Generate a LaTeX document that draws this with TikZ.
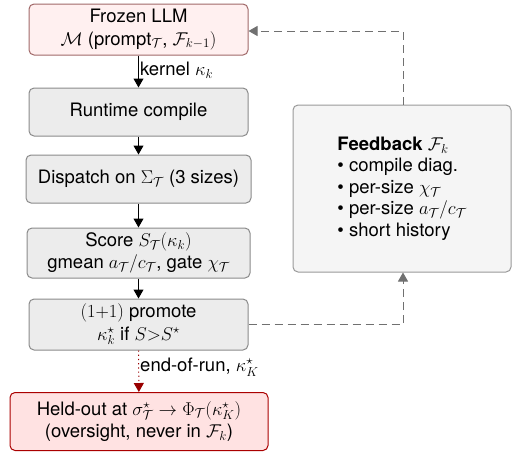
\RequirePackage{fix-cm}
\documentclass[tikz,border=0pt]{standalone}
\usepackage{fontspec}
\setmainfont{TeX Gyre Heros}
\usetikzlibrary{arrows.meta,positioning,calc}
\definecolor{llmfill}{HTML}{FFF0F0}
\definecolor{llmdraw}{HTML}{A06868}
\definecolor{hofill}{HTML}{FFE2E2}
\definecolor{hodraw}{HTML}{AA0000}
\definecolor{boxfill}{HTML}{ECECEC}
\definecolor{boxdraw}{HTML}{8A8A8A}
\definecolor{fbfill}{HTML}{F5F5F5}
\definecolor{fbdraw}{HTML}{999999}
\definecolor{dashcol}{HTML}{707070}
\definecolor{dotred}{HTML}{990000}
\tikzset{
  stagebox/.style={draw=boxdraw, fill=boxfill, rounded corners=5pt, line width=1pt, align=center, inner sep=0pt, font=\fontsize{18.5}{22.5}\selectfont},
  llmbox/.style={stagebox, draw=llmdraw, fill=llmfill},
  hobox/.style={stagebox, draw=hodraw, fill=hofill},
  fbbox/.style={stagebox, draw=fbdraw, fill=fbfill},
  flow/.style={-{Triangle[length=9pt,width=10pt]}, line width=1pt, black},
  fback/.style={-{Triangle[length=9pt,width=10pt]}, line width=1pt, dashcol, dash pattern=on 8pt off 5pt},
  heldflow/.style={-{Triangle[length=9pt,width=10pt]}, line width=1pt, dotred, dash pattern=on 1.2pt off 3pt},
  lbl/.style={font=\fontsize{18.5}{22}\selectfont, inner sep=1pt, text=black}
}
\begin{document}
\begin{tikzpicture}[x=1pt,y=1pt]
\useasboundingbox (0,0) rectangle (512,-451);
\node[llmbox, minimum width=219pt, minimum height=51pt] (llm) at (138.5,-29.5)
  {Frozen LLM\\$\mathcal{M}$ (prompt$_{\mathcal{T}}$, $\mathcal{F}_{k-1})$};
\node[stagebox, minimum width=219pt, minimum height=48pt] (rc) at (138.5,-112) {Runtime compile};
\node[stagebox, minimum width=225pt, minimum height=48pt] (dp) at (138.5,-179) {Dispatch on $\Sigma_{\mathcal{T}}$ (3 sizes)};
\node[stagebox, minimum width=223pt, minimum height=50pt] (sc) at (138.5,-253)
  {Score $S_{\mathcal{T}}(\kappa_k)$\\gmean $a_{\mathcal{T}}/c_{\mathcal{T}}$, gate $\chi_{\mathcal{T}}$};
\node[stagebox, minimum width=219pt, minimum height=51pt] (pr) at (138.5,-324.5)
  {$(1{+}1)$ promote\\$\kappa^\star_k$ if $S{>}S^\star$};
\node[hobox, minimum width=258pt, minimum height=58pt] (ho) at (139,-421.5)
  {Held-out at $\sigma^\star_{\mathcal{T}}\to\Phi_{\mathcal{T}}(\kappa^\star_K)$\\(oversight, never in $\mathcal{F}_k$)};
\node[fbbox, minimum width=218pt, minimum height=167pt, align=left, font=\fontsize{18.5}{21.5}\selectfont] (fb) at (402,-188.5)
  {\textbf{Feedback} $\mathcal{F}_k$\\• compile diag.\\• per-size $\chi_{\mathcal{T}}$\\• per-size $a_{\mathcal{T}}/c_{\mathcal{T}}$\\• short history};
\draw[flow] (llm) -- node[lbl, right, pos=0.45] {kernel $\kappa_k$} (rc);
\draw[flow] (rc) -- (dp);
\draw[flow] (dp) -- (sc);
\draw[flow] (sc) -- (pr);
\draw[heldflow] (pr) -- node[lbl, right, pos=0.4] {end-of-run, $\kappa^\star_K$} (ho);
\coordinate (c1) at (403,-324.5);
\coordinate (c2) at (403,-31);
\draw[fback] (pr.east) -- (c1) -- (c1 |- fb.south);
\draw[fback] (c2 |- fb.north) -- (c2) -- (llm.east |- c2);
\end{tikzpicture}
\end{document}
